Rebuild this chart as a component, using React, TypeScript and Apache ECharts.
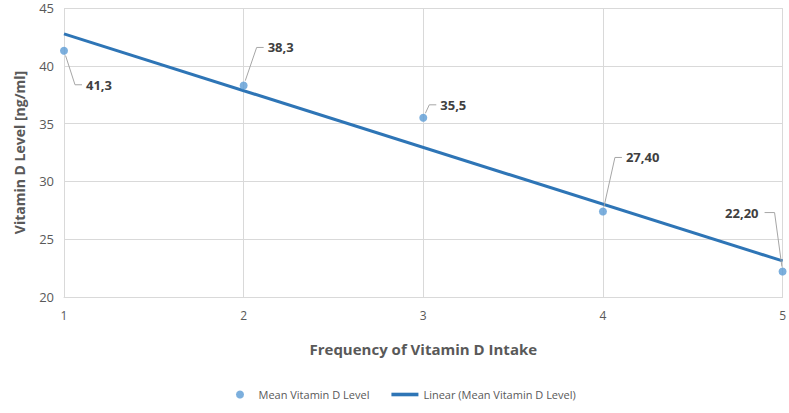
import React, { useEffect, useRef } from "react";
import * as echarts from "echarts";

const frequencies = [1, 2, 3, 4, 5];
const meanLevels = [41.3, 38.3, 35.5, 27.4, 22.2];
const levelLabels = ["41,3", "38,3", "35,5", "27,40", "22,20"];
// Linear trendline end points
const trendX = [1, 5];
const trendY = [42.76, 23.12];
// label anchor offsets (px) from each point: near edge of label, vertical middle
const labelDx = [22, 24, 17, 23, -24];
const labelDy = [34, -38, -13, -54, -59];

const FONT = "'Open Sans', 'Noto Sans', sans-serif";
const GRAY = "#595959";

export default function App() {
  const ref = useRef<HTMLDivElement>(null);
  useEffect(() => {
    document.body.style.margin = "0";
    const chart = echarts.init(ref.current!, null, { renderer: "svg" });
    chart.setOption({
      animation: false,
      textStyle: { fontFamily: FONT },
      grid: { left: 64, right: 5, top: 8, bottom: 116 },
      legend: {
        bottom: 8,
        left: 231,
        itemGap: 22,
        itemWidth: 27,
        itemHeight: 8,
        textStyle: { color: GRAY, fontSize: 11, fontFamily: FONT },
        data: [
          { name: "Mean Vitamin D Level", icon: "circle" },
          { name: "Linear (Mean Vitamin D Level)", icon: "path://M0,0H30V4H0Z" },
        ],
      },
      xAxis: {
        type: "value",
        min: 1,
        max: 5,
        interval: 1,
        name: "Frequency of Vitamin D Intake",
        nameLocation: "middle",
        nameGap: 44,
        nameTextStyle: { color: GRAY, fontSize: 15, fontWeight: "bold", fontFamily: FONT },
        axisLine: { lineStyle: { color: "#d9d9d9" } },
        axisTick: { show: false },
        axisLabel: { color: GRAY, fontSize: 12, margin: 12 },
        splitLine: { show: true, lineStyle: { color: "#d9d9d9" } },
      },
      yAxis: {
        type: "value",
        min: 20,
        max: 45,
        interval: 5,
        name: "Vitamin D Level [ng/ml]",
        nameLocation: "middle",
        nameGap: 38,
        nameTextStyle: { color: GRAY, fontSize: 14, fontWeight: "bold", fontFamily: FONT },
        axisLine: { show: false },
        axisTick: { show: false },
        axisLabel: { color: GRAY, fontSize: 13, margin: 10 },
        splitLine: { show: true, lineStyle: { color: "#d9d9d9" } },
      },
      series: [
        {
          name: "Linear (Mean Vitamin D Level)",
          type: "line",
          data: trendX.map((x, i) => [x, trendY[i]]),
          symbol: "none",
          lineStyle: { color: "#2E75B6", width: 3 },
          itemStyle: { color: "#2E75B6" },
          z: 2,
        },
        {
          name: "Mean Vitamin D Level",
          type: "scatter",
          symbolSize: 8,
          itemStyle: { color: "#5B9BD5" },
          z: 3,
          data: frequencies.map((x, i) => [x, meanLevels[i]]),
        },
        {
          name: "labels",
          type: "custom",
          z: 4,
          data: frequencies.map((x, i) => [x, meanLevels[i]]),
          renderItem: (params: any, api: any) => {
            const i = params.dataIndex;
            const pt = api.coord([api.value(0), api.value(1)]);
            const dx = labelDx[i];
            const dy = labelDy[i];
            const ax = pt[0] + dx;
            const ay = pt[1] + dy;
            const rightSide = dx > 0;
            const end = rightSide ? [ax - 4, ay] : [ax - 6 + 12, ay];
            const elbow = rightSide ? [ax - 11, ay] : [ax + 16, ay];
            const vx = elbow[0] - pt[0];
            const vy = elbow[1] - pt[1];
            const len = Math.sqrt(vx * vx + vy * vy) || 1;
            const start = [pt[0] + (vx / len) * 5, pt[1] + (vy / len) * 5];
            return {
              type: "group",
              children: [
                {
                  type: "polyline",
                  shape: { points: [start, elbow, end] },
                  style: { stroke: "#a6a6a6", lineWidth: 1, fill: null },
                },
                {
                  type: "text",
                  x: ax,
                  y: ay,
                  style: {
                    text: levelLabels[i],
                    fill: "#404040",
                    font: `bold 13px ${FONT}`,
                    align: rightSide ? "left" : "right",
                    verticalAlign: "middle",
                  },
                },
              ],
            };
          },
        },
      ],
    });
    return () => chart.dispose();
  }, []);
  return <div ref={ref} style={{ width: 789, height: 413 }} />;
}
